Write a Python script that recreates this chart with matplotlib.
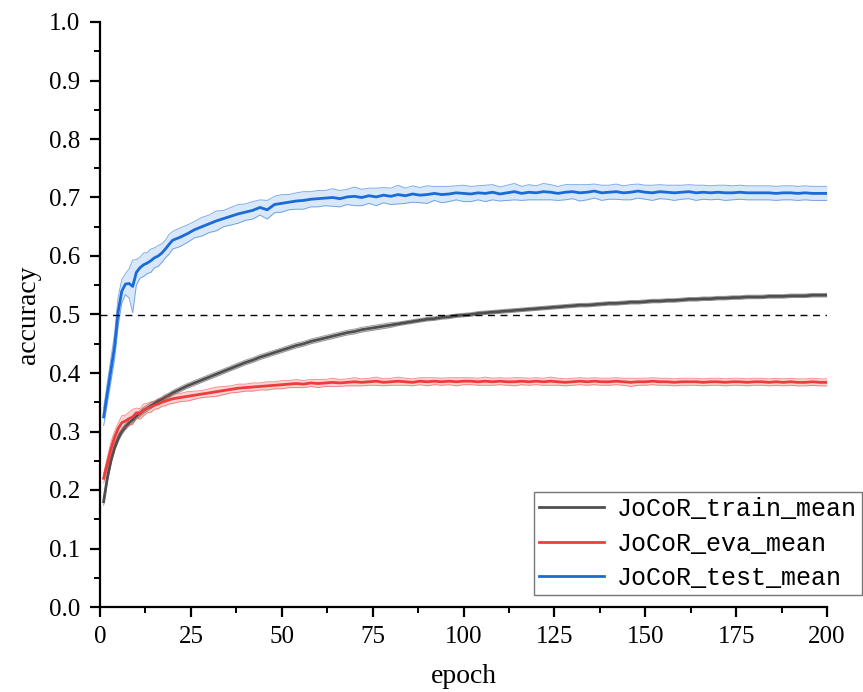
import matplotlib
matplotlib.use('Agg')
import numpy as np
import matplotlib.pyplot as plt
from matplotlib.ticker import MultipleLocator

# epochs sampled: every epoch up to 20, then every 2 epochs
epochs = [1, 2, 3, 4, 5, 6, 7, 8, 9, 10, 11, 12, 13, 14, 15, 16, 17, 18, 19, 20,
          22, 24, 26, 28, 30, 32, 34, 36, 38, 40, 42, 44, 46, 48, 50, 52, 54, 56, 58, 60,
          62, 64, 66, 68, 70, 72, 74, 76, 78, 80, 82, 84, 86, 88, 90, 92, 94, 96, 98, 100,
          102, 104, 106, 108, 110, 112, 114, 116, 118, 120, 122, 124, 126, 128, 130, 132, 134, 136, 138, 140,
          142, 144, 146, 148, 150, 152, 154, 156, 158, 160, 162, 164, 166, 168, 170, 172, 174, 176, 178, 180,
          182, 184, 186, 188, 190, 192, 194, 196, 198, 200]

train_mean = [0.180, 0.220, 0.250, 0.272, 0.288, 0.300, 0.308, 0.315, 0.320, 0.326,
              0.331, 0.336, 0.340, 0.344, 0.348, 0.352, 0.355, 0.359, 0.362, 0.366,
              0.372, 0.378, 0.383, 0.388, 0.393, 0.398, 0.403, 0.408, 0.413, 0.418,
              0.422, 0.427, 0.431, 0.435, 0.439, 0.443, 0.447, 0.450, 0.454, 0.457,
              0.460, 0.463, 0.466, 0.469, 0.471, 0.474, 0.476, 0.478, 0.480, 0.482,
              0.484, 0.486, 0.488, 0.490, 0.492, 0.493, 0.495, 0.496, 0.498, 0.499,
              0.500, 0.502, 0.503, 0.504, 0.505, 0.506, 0.507, 0.508, 0.509, 0.510,
              0.511, 0.512, 0.513, 0.514, 0.515, 0.516, 0.516, 0.517, 0.518, 0.519,
              0.519, 0.520, 0.521, 0.521, 0.522, 0.523, 0.523, 0.524, 0.524, 0.525,
              0.526, 0.526, 0.527, 0.527, 0.528, 0.528, 0.529, 0.529, 0.530, 0.530,
              0.530, 0.531, 0.531, 0.531, 0.532, 0.532, 0.532, 0.533, 0.533, 0.533]
train_std = [0.006, 0.006, 0.006, 0.005, 0.005, 0.005, 0.005, 0.005, 0.005, 0.005,
             0.005, 0.005, 0.005, 0.005, 0.004, 0.004, 0.004, 0.004, 0.004, 0.004,
             0.004, 0.004, 0.004, 0.004, 0.004, 0.004, 0.004, 0.004, 0.004, 0.004,
             0.004, 0.004, 0.004, 0.004, 0.004, 0.004, 0.004, 0.004, 0.004, 0.004,
             0.004, 0.004, 0.004, 0.004, 0.004, 0.004, 0.004, 0.004, 0.004, 0.004,
             0.003, 0.003, 0.003, 0.003, 0.003, 0.003, 0.003, 0.003, 0.003, 0.003,
             0.003, 0.003, 0.003, 0.003, 0.003, 0.003, 0.003, 0.003, 0.003, 0.003,
             0.003, 0.003, 0.003, 0.003, 0.003, 0.003, 0.003, 0.003, 0.003, 0.003,
             0.003, 0.003, 0.003, 0.003, 0.003, 0.003, 0.003, 0.003, 0.003, 0.003,
             0.003, 0.003, 0.003, 0.003, 0.003, 0.003, 0.003, 0.003, 0.003, 0.003,
             0.003, 0.003, 0.003, 0.003, 0.003, 0.003, 0.003, 0.003, 0.003, 0.003]

eva_mean = [0.220, 0.245, 0.270, 0.290, 0.305, 0.315, 0.318, 0.322, 0.325, 0.332,
            0.330, 0.337, 0.340, 0.342, 0.345, 0.347, 0.350, 0.352, 0.354, 0.356,
            0.358, 0.360, 0.362, 0.364, 0.366, 0.368, 0.370, 0.372, 0.374, 0.375,
            0.376, 0.377, 0.378, 0.379, 0.380, 0.381, 0.382, 0.381, 0.383, 0.382,
            0.383, 0.384, 0.383, 0.384, 0.385, 0.384, 0.385, 0.386, 0.384, 0.385,
            0.386, 0.385, 0.384, 0.386, 0.385, 0.386, 0.385, 0.386, 0.385, 0.386,
            0.386, 0.385, 0.386, 0.385, 0.386, 0.385, 0.385, 0.386, 0.385, 0.386,
            0.385, 0.386, 0.385, 0.384, 0.385, 0.386, 0.385, 0.386, 0.385, 0.385,
            0.386, 0.385, 0.384, 0.385, 0.385, 0.386, 0.385, 0.385, 0.384, 0.385,
            0.385, 0.385, 0.384, 0.385, 0.385, 0.384, 0.385, 0.385, 0.384, 0.385,
            0.385, 0.384, 0.385, 0.384, 0.385, 0.384, 0.384, 0.385, 0.384, 0.384]
eva_std = [0.008, 0.010, 0.012, 0.010, 0.009, 0.012, 0.010, 0.011, 0.013, 0.008,
           0.009, 0.010, 0.008, 0.009, 0.007, 0.008, 0.007, 0.008, 0.007, 0.008,
           0.007, 0.008, 0.007, 0.006, 0.007, 0.008, 0.007, 0.006, 0.007, 0.006,
           0.007, 0.006, 0.007, 0.006, 0.007, 0.006, 0.007, 0.006, 0.006, 0.007,
           0.006, 0.007, 0.006, 0.006, 0.007, 0.006, 0.006, 0.007, 0.006, 0.006,
           0.007, 0.006, 0.006, 0.006, 0.007, 0.006, 0.006, 0.006, 0.007, 0.006,
           0.006, 0.006, 0.007, 0.006, 0.006, 0.006, 0.007, 0.006, 0.006, 0.006,
           0.006, 0.007, 0.006, 0.006, 0.006, 0.006, 0.006, 0.006, 0.006, 0.006,
           0.006, 0.006, 0.007, 0.006, 0.006, 0.006, 0.006, 0.006, 0.006, 0.006,
           0.006, 0.006, 0.006, 0.006, 0.006, 0.006, 0.006, 0.006, 0.006, 0.006,
           0.006, 0.006, 0.006, 0.006, 0.006, 0.006, 0.006, 0.006, 0.006, 0.006]

test_mean = [0.325, 0.365, 0.405, 0.445, 0.505, 0.540, 0.552, 0.553, 0.548, 0.572,
             0.580, 0.585, 0.588, 0.592, 0.597, 0.600, 0.605, 0.612, 0.620, 0.627,
             0.632, 0.638, 0.645, 0.650, 0.655, 0.660, 0.664, 0.668, 0.672, 0.675,
             0.678, 0.683, 0.679, 0.688, 0.690, 0.692, 0.694, 0.695, 0.697, 0.698,
             0.699, 0.700, 0.698, 0.701, 0.702, 0.700, 0.703, 0.701, 0.704, 0.702,
             0.705, 0.703, 0.706, 0.704, 0.705, 0.707, 0.705, 0.706, 0.708, 0.707,
             0.706, 0.708, 0.707, 0.709, 0.706, 0.708, 0.710, 0.707, 0.709, 0.708,
             0.710, 0.709, 0.707, 0.709, 0.710, 0.708, 0.709, 0.711, 0.708, 0.709,
             0.710, 0.708, 0.709, 0.711, 0.709, 0.708, 0.710, 0.709, 0.708, 0.709,
             0.710, 0.708, 0.709, 0.708, 0.709, 0.708, 0.708, 0.709, 0.708, 0.708,
             0.708, 0.708, 0.707, 0.708, 0.708, 0.707, 0.708, 0.707, 0.707, 0.707]
test_std = [0.015, 0.018, 0.020, 0.022, 0.025, 0.020, 0.018, 0.025, 0.045, 0.022,
            0.018, 0.020, 0.018, 0.020, 0.017, 0.018, 0.016, 0.015, 0.017, 0.015,
            0.016, 0.015, 0.014, 0.016, 0.015, 0.017, 0.014, 0.015, 0.016, 0.014,
            0.015, 0.013, 0.016, 0.014, 0.015, 0.013, 0.014, 0.015, 0.013, 0.014,
            0.013, 0.015, 0.014, 0.013, 0.016, 0.014, 0.013, 0.015, 0.013, 0.014,
            0.016, 0.013, 0.014, 0.013, 0.015, 0.012, 0.014, 0.013, 0.012, 0.014,
            0.013, 0.012, 0.014, 0.013, 0.012, 0.013, 0.014, 0.012, 0.013, 0.012,
            0.014, 0.013, 0.012, 0.013, 0.012, 0.014, 0.013, 0.012, 0.013, 0.012,
            0.013, 0.012, 0.013, 0.012, 0.012, 0.013, 0.012, 0.012, 0.013, 0.012,
            0.012, 0.013, 0.012, 0.012, 0.012, 0.013, 0.012, 0.012, 0.012, 0.012,
            0.012, 0.012, 0.012, 0.012, 0.012, 0.012, 0.012, 0.012, 0.012, 0.012]

series = [
    ('JoCoR_train_mean', train_mean, train_std, '#4f4f4f', '#bdbdbd'),
    ('JoCoR_eva_mean', eva_mean, eva_std, '#ee3b3b', '#f4a0a0'),
    ('JoCoR_test_mean', test_mean, test_std, '#1a6ad8', '#a9cdf2'),
]

plt.rcParams['font.family'] = ['Liberation Serif', 'DejaVu Serif']

fig = plt.figure(figsize=(8.63, 6.92), dpi=100)
ax = fig.add_axes([100 / 863, 1 - 607 / 692, 727 / 863, 585 / 692])

x = np.array(epochs)
for name, mean, std, color, band in series:
    m = np.array(mean)
    s = np.array(std)
    ax.fill_between(x, m - s, m + s, color=band, alpha=0.45, lw=0)
    ax.plot(x, m - s, color=color, lw=0.7, alpha=0.55)
    ax.plot(x, m + s, color=color, lw=0.7, alpha=0.55)
    ax.plot(x, m, color=color, lw=2, label=name)

ax.axhline(0.5, color='black', lw=1, dashes=(5, 4))

ax.set_xlim(0, 200)
ax.set_ylim(0, 1.0)
ax.xaxis.set_major_locator(MultipleLocator(25))
ax.xaxis.set_minor_locator(MultipleLocator(12.5))
ax.yaxis.set_major_locator(MultipleLocator(0.1))
ax.yaxis.set_minor_locator(MultipleLocator(0.05))
ax.yaxis.set_major_formatter(plt.FuncFormatter(lambda v, p: '%.1f' % v))

for side in ['top', 'right']:
    ax.spines[side].set_visible(False)
for side in ['left', 'bottom']:
    ax.spines[side].set_linewidth(1.6)

ax.tick_params(which='major', direction='out', length=7, width=1.6, labelsize=18, pad=7)
ax.tick_params(which='minor', direction='out', length=4, width=1.4)

ax.set_xlabel('epoch', fontsize=20, labelpad=11)
ax.set_ylabel('accuracy', fontsize=20, labelpad=6)

leg = ax.legend(loc='lower right', bbox_to_anchor=(1.0 + 35 / 727, 12 / 585),
                prop={'family': 'Liberation Mono', 'size': 18},
                handlelength=2.6, frameon=True, fancybox=False, borderpad=0.2, labelspacing=0.42,
                handletextpad=0.5, borderaxespad=0)
leg.get_frame().set_edgecolor('#555555')
leg.get_frame().set_linewidth(1.0)

fig.savefig('out.png', dpi=100)
